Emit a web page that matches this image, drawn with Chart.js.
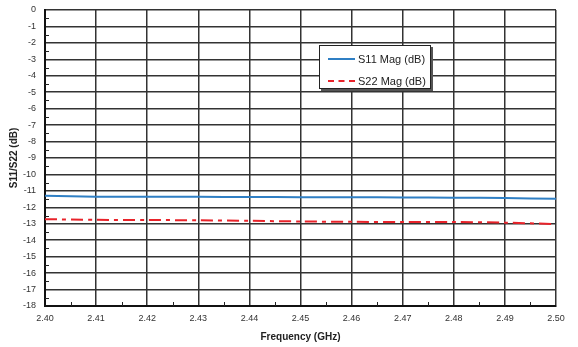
<!DOCTYPE html>
<html>
<head>
<meta charset="utf-8">
<script src="https://cdn.jsdelivr.net/npm/chart.js@4.4.1/dist/chart.umd.min.js"></script>
<style>
  html, body { margin: 0; padding: 0; background: #fff; }
  #wrap { position: relative; width: 578px; height: 347px; }
  #legend {
    position: absolute; left: 319px; top: 45px; width: 110px; height: 42px;
    background: #fff; border: 1px solid #222; box-shadow: 2px 2px 0 #555;
    font: 11px "Liberation Sans", Arial, sans-serif; color: #222;
  }
  .row { position: absolute; left: 8px; height: 14px; line-height: 14px; }
  .row span { display: inline-block; vertical-align: middle; }
  .sw { width: 27px; height: 0; margin-right: 3px; }
</style>
</head>
<body>
<div id="wrap">
  <canvas id="myChart" width="578" height="347"></canvas>
  <div id="legend">
    <div class="row" style="top:5px"><span class="sw" style="border-top:2px solid #2f7fc4"></span><span>S11 Mag (dB)</span></div>
    <div class="row" style="top:27px"><span class="sw" style="border-top:2px dashed #e8232a"></span><span>S22 Mag (dB)</span></div>
  </div>
</div>
<script>
// datos
const freqs = [2.40, 2.41, 2.42, 2.43, 2.44, 2.45, 2.46, 2.47, 2.48, 2.49, 2.50];
const s11 = [-11.30, -11.35, -11.36, -11.36, -11.37, -11.38, -11.38, -11.40, -11.41, -11.44, -11.48];
const s22 = [-12.72, -12.76, -12.77, -12.79, -12.82, -12.86, -12.88, -12.89, -12.89, -12.93, -13.02];
const yTicks = [0, -1, -2, -3, -4, -5, -6, -7, -8, -9, -10, -11, -12, -13, -14, -15, -16, -17, -18];

const ctx = document.getElementById('myChart').getContext('2d');
const font = { family: '"Liberation Sans", Arial, sans-serif', size: 9 };

// marcas menores hacia adentro
const minorTicks = {
  id: 'minorTicks',
  afterDraw(chart) {
    const { ctx, chartArea: a, scales: { x, y } } = chart;
    ctx.save();
    ctx.strokeStyle = '#222';
    ctx.lineWidth = 1;
    ctx.beginPath();
    for (let i = 0; i < freqs.length - 1; i++) {
      const px = Math.round(x.getPixelForValue((freqs[i] + freqs[i + 1]) / 2)) + 0.5;
      ctx.moveTo(px, a.bottom); ctx.lineTo(px, a.bottom - 4);
    }
    for (let i = 0; i < yTicks.length - 1; i++) {
      const py = Math.round(y.getPixelForValue(yTicks[i] - 0.5)) + 0.5;
      ctx.moveTo(a.left, py); ctx.lineTo(a.left + 4, py);
    }
    ctx.stroke();
    ctx.restore();
  }
};

const config = {
  type: 'line',
  data: {
    datasets: [{
      label: 'S11 Mag (dB)',
      data: freqs.map((f, i) => ({ x: f, y: s11[i] })),
      borderColor: '#2f7fc4',
      borderWidth: 2,
      pointRadius: 0,
      tension: 0.3
    }, {
      label: 'S22 Mag (dB)',
      data: freqs.map((f, i) => ({ x: f, y: s22[i] })),
      borderColor: '#e8232a',
      borderWidth: 2,
      borderDash: [12, 5, 4, 5],
      pointRadius: 0,
      tension: 0.3
    }]
  },
  options: {
    responsive: false,
    animation: false,
    layout: { padding: { top: 10, right: 22, left: 4, bottom: 0 } },
    plugins: { legend: { display: false }, tooltip: { enabled: false } },
    scales: {
      x: {
        type: 'linear',
        min: 2.40,
        max: 2.50,
        afterBuildTicks: s => { s.ticks = freqs.map(v => ({ value: v })); },
        afterFit: s => { s.height = 41; s.paddingLeft = 0; s.paddingRight = 0; },
        grid: { color: '#333', lineWidth: 1.5, drawTicks: false },
        border: { color: '#111', width: 2 },
        ticks: { font, color: '#333', padding: 7, maxRotation: 0, callback: v => v.toFixed(2) },
        title: { display: true, text: 'Frequency (GHz)', font: { family: font.family, size: 10, weight: 'bold' }, color: '#222', padding: { top: 4 } }
      },
      y: {
        min: -18,
        max: 0,
        afterBuildTicks: s => { s.ticks = yTicks.map(v => ({ value: v })); },
        afterFit: s => { s.width = 41; s.paddingTop = 0; s.paddingBottom = 0; },
        grid: { color: '#333', lineWidth: 1.5, drawTicks: false },
        border: { color: '#111', width: 2 },
        ticks: { font, color: '#333', padding: 9 },
        title: { display: true, text: 'S11/S22 (dB)', font: { family: font.family, size: 10, weight: 'bold' }, color: '#222', padding: { bottom: 2 } }
      }
    }
  },
  plugins: [minorTicks]
};

const myChart = new Chart(ctx, config);
</script>
</body>
</html>
